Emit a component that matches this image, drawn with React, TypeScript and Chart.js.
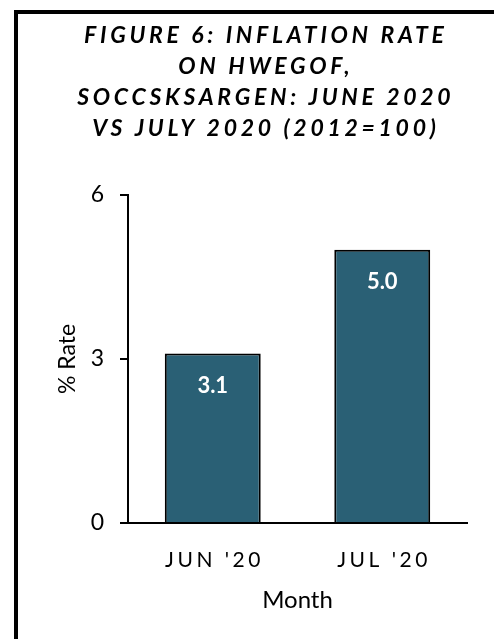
import React, { useEffect, useRef } from "react";
import { Chart, registerables } from "chart.js";

Chart.register(...registerables);

const categories = ["JUN '20", "JUL '20"];
const rates = [3.1, 5.0];
const yMin = 0;
const yMax = 6;
const yStep = 3;
const titleLines = [
  "FIGURE 6: INFLATION RATE",
  "ON HWEGOF,",
  "SOCCSKSARGEN: JUNE 2020",
  "VS JULY 2020 (2012=100)",
];
const yTitle = "% Rate";
const xTitle = "Month";

const FONT = "Lato, 'Open Sans', sans-serif";
const BAR_COLOR = "#2A6075";

const barLabels = {
  id: "barLabels",
  afterDatasetsDraw(chart: any) {
    const ctx = chart.ctx;
    const meta = chart.getDatasetMeta(0);
    ctx.save();
    ctx.font = `bold 22px ${FONT}`;
    ctx.fillStyle = "#ffffff";
    ctx.textAlign = "center";
    ctx.textBaseline = "middle";
    meta.data.forEach((el: any, i: number) => {
      const v = chart.data.datasets[0].data[i] as number;
      ctx.fillText(v.toFixed(1), el.x, el.y + 32);
    });
    ctx.restore();
  },
};

const letterSpacing = {
  id: "letterSpacing",
  beforeDraw(chart: any) {
    const tb = chart.titleBlock;
    if (tb && !tb.__ls) {
      const orig = tb.draw.bind(tb);
      tb.draw = (...a: any[]) => {
        const c = chart.ctx;
        c.save();
        c.letterSpacing = "3.7px";
        // center the title on the full canvas width (layout padding shrinks its box)
        const shift = chart.width / 2 - (tb.left + tb.right) / 2 + 1.85;
        c.translate(shift, 0);
        orig(...a);
        c.restore();
      };
      tb.__ls = true;
    }
    const xs = chart.scales.x;
    if (xs && !xs.__ls) {
      const orig = xs.drawLabels.bind(xs);
      xs.drawLabels = (...a: any[]) => {
        const c = chart.ctx;
        c.save();
        c.letterSpacing = "3.5px";
        c.translate(1.75, 0);
        orig(...a);
        c.restore();
      };
      xs.__ls = true;
    }
  },
};

export default function App() {
  const ref = useRef<HTMLCanvasElement | null>(null);

  useEffect(() => {
    if (!ref.current) return;
    const chart = new Chart(ref.current, {
      type: "bar",
      data: {
        labels: categories,
        datasets: [
          {
            data: rates,
            backgroundColor: BAR_COLOR,
            borderColor: "#000000",
            borderWidth: 2,
            barPercentage: 0.566,
            categoryPercentage: 1,
          },
        ],
      },
      options: {
        responsive: false,
        animation: false,
        devicePixelRatio: 1,
        layout: { padding: { left: 0, right: 43, top: 0, bottom: 0 } },
        plugins: {
          legend: { display: false },
          tooltip: { enabled: false },
          title: {
            display: true,
            text: titleLines,
            color: "#000000",
            font: { family: FONT, size: 23, weight: "bold", style: "italic", lineHeight: 31 / 23 },
            padding: { top: 6.5, bottom: 50.5 },
          },
        },
        scales: {
          x: {
            grid: { display: false, drawTicks: false },
            border: { display: true, color: "#000000", width: 2 },
            ticks: { color: "#000000", font: { family: FONT, size: 21 }, padding: 25 },
            title: {
              display: true,
              text: xTitle,
              color: "#000000",
              font: { family: FONT, size: 24 },
              padding: { top: 0, bottom: 24.5 },
            },
            afterFit(s: any) {
              s.height = 116;
            },
          },
          y: {
            min: yMin,
            max: yMax,
            ticks: { stepSize: yStep, color: "#000000", font: { family: FONT, size: 23 }, padding: 16 },
            grid: { drawOnChartArea: false, drawTicks: true, tickLength: 8, color: "#000000", lineWidth: 2 },
            border: { display: true, color: "#000000", width: 2 },
            title: {
              display: true,
              text: yTitle,
              color: "#000000",
              font: { family: FONT, size: 23 },
              padding: { top: 36, bottom: 0 },
            },
            afterFit(s: any) {
              s.width = 110;
            },
          },
        },
      },
      plugins: [barLabels, letterSpacing],
    } as any);
    return () => chart.destroy();
  }, []);

  return (
    <div style={{ position: "absolute", left: 0, top: 0, width: 494, height: 639, overflow: "hidden", background: "#ffffff" }}>
      <div
        style={{
          position: "absolute",
          left: 14,
          top: 10,
          width: 492,
          height: 625,
          border: "4px solid #000000",
          background: "#ffffff",
        }}
      >
        <canvas ref={ref} width={492} height={625} style={{ display: "block", width: 492, height: 625 }} />
      </div>
    </div>
  );
}
